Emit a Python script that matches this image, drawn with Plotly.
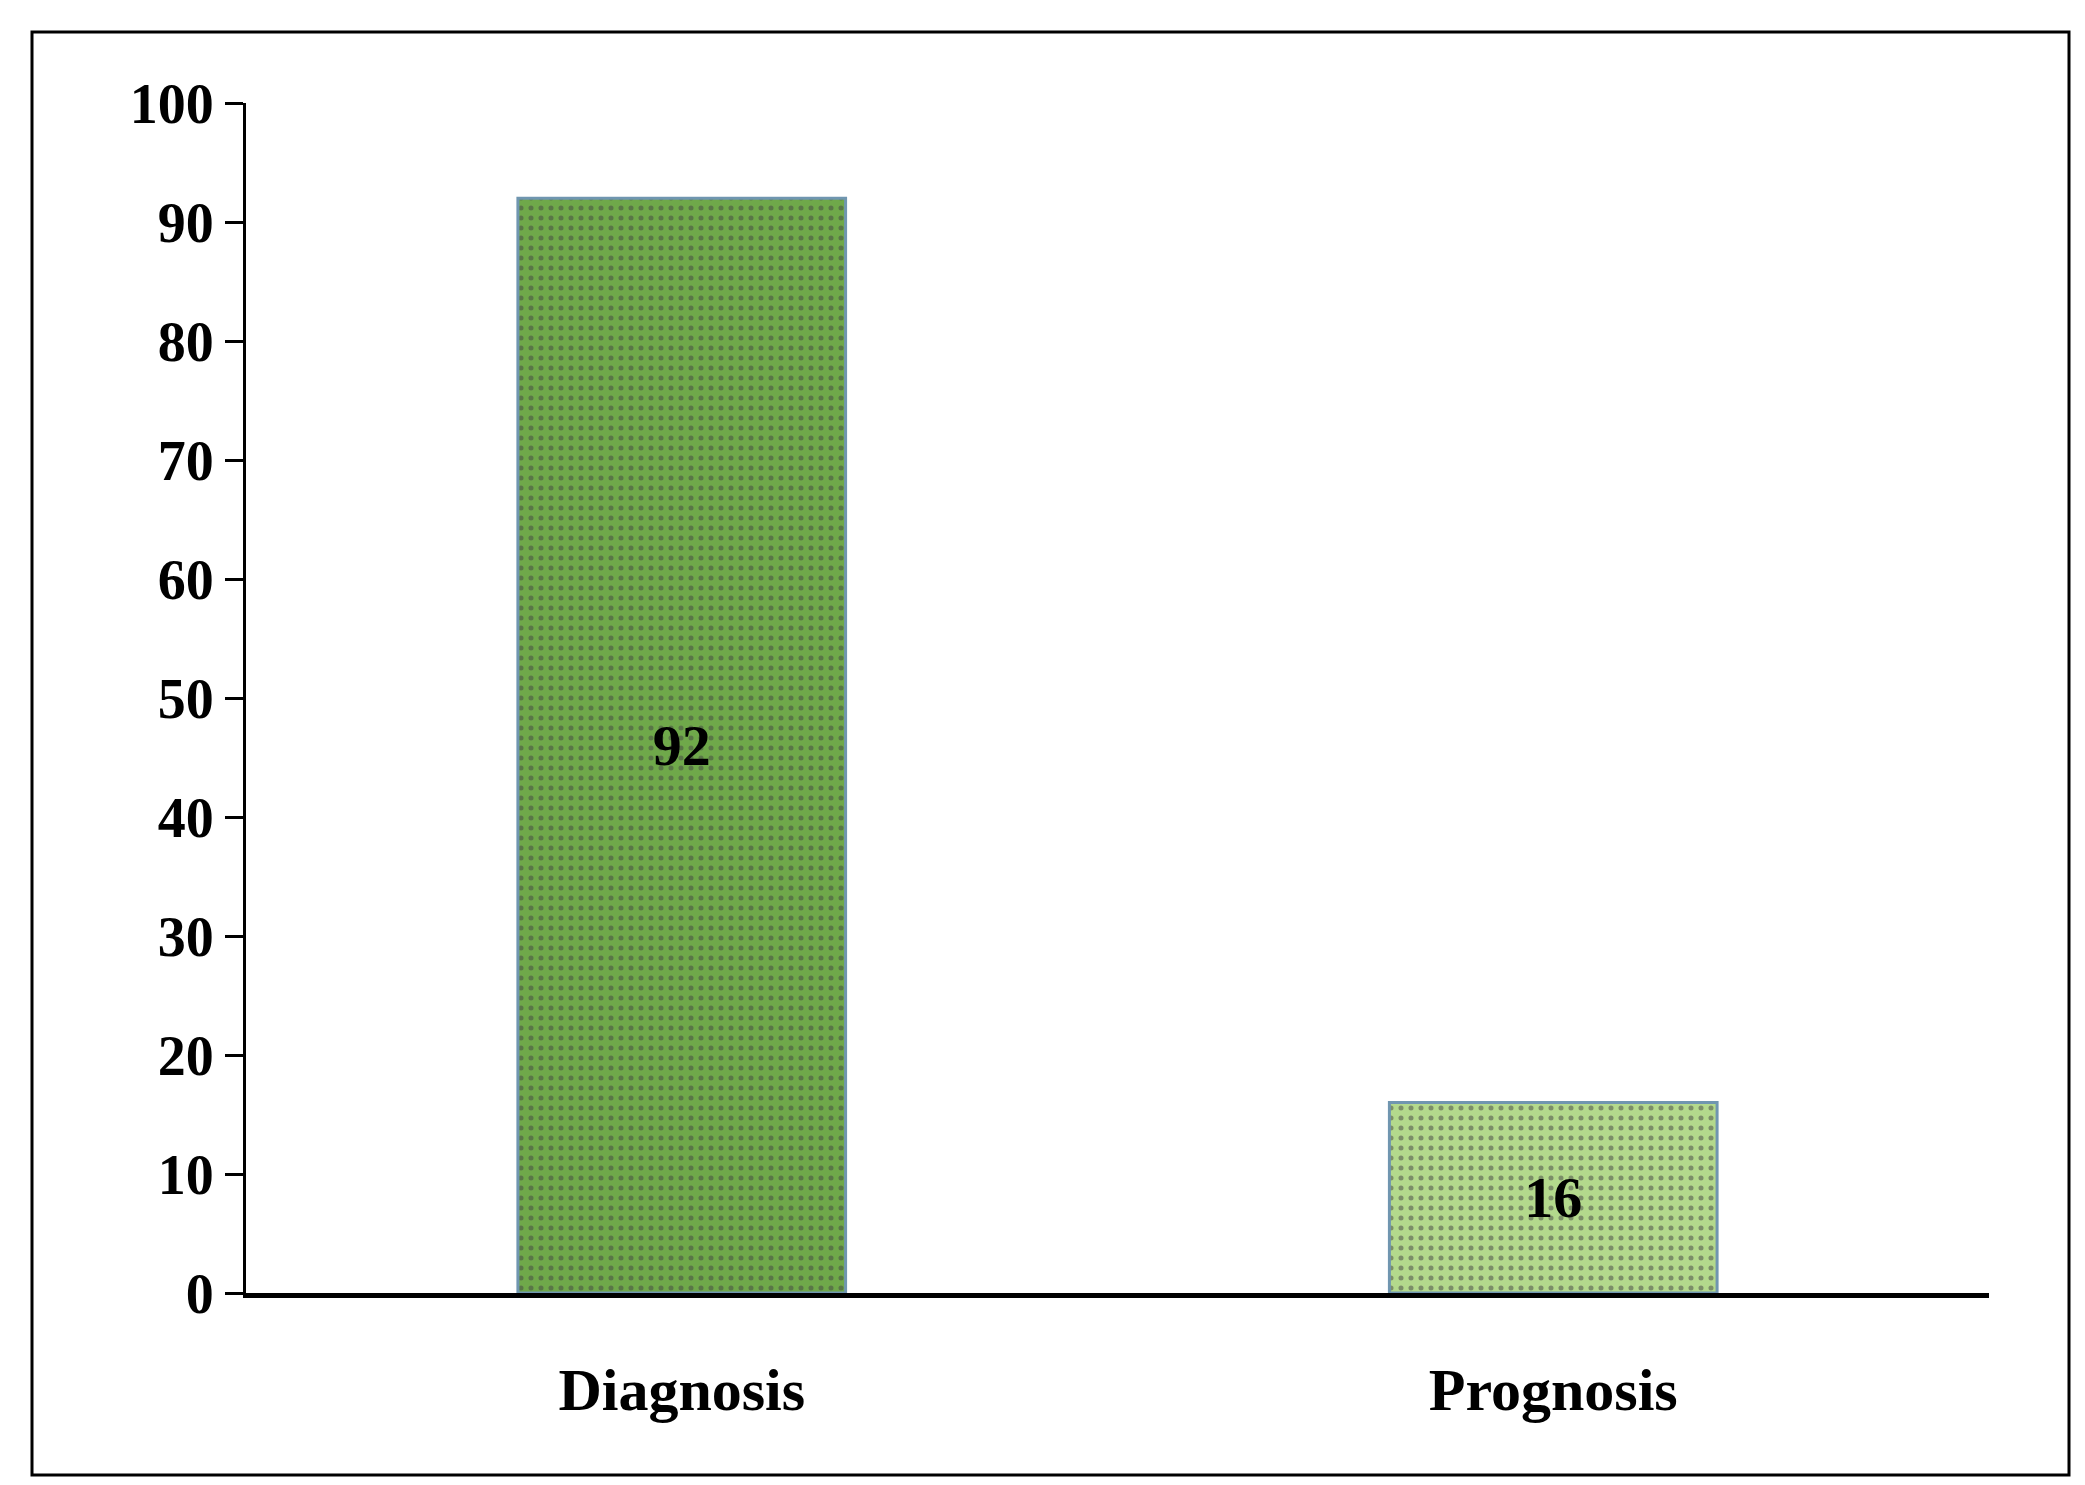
import plotly.graph_objects as go

categories = ["Diagnosis", "Prognosis"]
values = [92, 16]
bar_colors = ["#6fa84a", "#b3d98c"]
tick_vals = [0, 10, 20, 30, 40, 50, 60, 70, 80, 90, 100]

fig = go.Figure(go.Bar(
    x=categories, y=values, width=0.376,
    marker=dict(color=bar_colors, line=dict(color="#7096b0", width=3),
                pattern=dict(shape=".", fgcolor="#f2f8ec", size=10, solidity=0.2)),
    texttemplate="<b>%{y}</b>", textposition="inside", insidetextanchor="middle",
    textfont=dict(family="Liberation Serif", size=58, color="black"),
))
W, H = 2085, 1485
L, R, T, B = 238, 104, 95, 200
fig.update_layout(
    width=W, height=H, margin=dict(l=L, r=R, t=T, b=B),
    plot_bgcolor="white", paper_bgcolor="white", showlegend=False,
    font=dict(family="Liberation Serif", color="black"),
    xaxis=dict(showline=True, linecolor="black", linewidth=5, ticks="",
               tickvals=categories, ticktext=["<b>%s</b>" % c for c in categories],
               ticklabelstandoff=40,
               tickfont=dict(size=60, family="Liberation Serif"), showgrid=False),
    yaxis=dict(range=[0, 100], tickvals=tick_vals, ticktext=["<b>%d</b>" % v for v in tick_vals],
               showline=True, linecolor="black", linewidth=3,
               ticks="outside", ticklen=18, tickwidth=3, tickcolor="black", showgrid=False,
               zeroline=False, tickfont=dict(size=56, family="Liberation Serif")),
    shapes=[dict(type="rect", xref="paper", yref="paper",
                 x0=(24 - L) / (W - L - R), x1=(2061 - L) / (W - L - R),
                 y0=-(1467 - (H - B)) / (H - T - B), y1=1 + (T - 24) / (H - T - B),
                 line=dict(color="black", width=3))],
)
fig.write_html("out.html")
